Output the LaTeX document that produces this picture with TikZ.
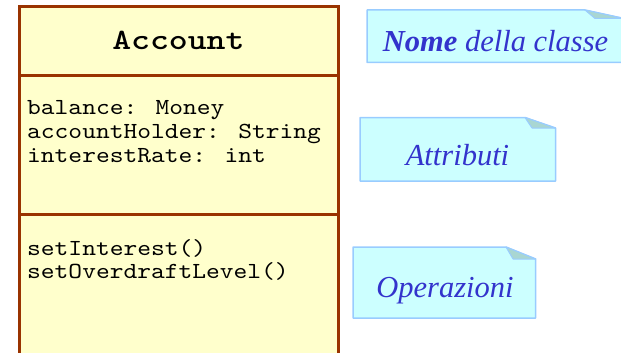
\documentclass[tikz,border=0pt]{standalone}
\usepackage{fontspec}
\setmainfont{Liberation Serif}
\newfontfamily\codefont{lmmono10-regular}[Extension=.otf, FakeStretch=1.14]
\newfontfamily\namefont{lmmonolt10-bold}[Extension=.otf, FakeStretch=1.22]
\definecolor{classfill}{HTML}{FFFFCC}
\definecolor{classline}{HTML}{993300}
\definecolor{notefill}{HTML}{CCFFFF}
\definecolor{noteline}{HTML}{99CCFF}
\definecolor{flapfill}{HTML}{A9D6D2}
\definecolor{notetext}{HTML}{3333CC}
\tikzset{
  compartment/.style={draw=classline, fill=classfill, line width=3pt},
  codeline/.style={anchor=base west, inner sep=0pt, font=\codefont\fontsize{23}{23}\selectfont},
  classname/.style={inner sep=0pt, font=\namefont\fontsize{29.5}{29.5}\selectfont},
  notebody/.style={draw=noteline, fill=notefill, line width=1.5pt, line join=round},
  noteflap/.style={draw=noteline, fill=flapfill, line width=1pt, line join=round},
  notelabel/.style={anchor=base, inner sep=0pt, text=notetext, font=\itshape\fontsize{30.5}{30.5}\selectfont}
}
\begin{document}
\begin{tikzpicture}[x=1pt, y=-1pt]
\useasboundingbox (0,0) rectangle (621,353);
\clip (0,0) rectangle (621,353);

% class box: three stacked compartments
\draw[compartment] (19.3,6.5) rectangle (338.5,76);
\draw[compartment] (19.3,76) rectangle (338.5,214.5);
\draw[compartment] (19.3,214.5) rectangle (338.5,370);
\node[classname, anchor=base] (cname) at (178.4,50) {Account};

\node[codeline] (a1) at (27,114.5) {balance: Money};
\node[codeline] (a2) at (27,138.5) {accountHolder: String};
\node[codeline] (a3) at (27,162.5) {interestRate: int};

\node[codeline] (m1) at (27,255) {setInterest()};
\node[codeline] (m2) at (27,278.5) {setOverdraftLevel()};

% note: class name
\draw[notebody] (367,10) -- (585,10) -- (624,18.5) -- (624,62.5) -- (367,62.5) -- cycle;
\draw[noteflap] (585,10) -- (595,18.5) -- (624,18.5) -- cycle;
\node[notelabel] (n1) at (495.5,52) {\textbf{Nome} della classe};

% note: attributes
\draw[notebody] (360,117.5) -- (525,117.5) -- (555.5,128) -- (555.5,181) -- (360,181) -- cycle;
\draw[noteflap] (525,117.5) -- (532,128) -- (555.5,128) -- cycle;
\node[notelabel] (n2) at (457.5,165) {Attributi};

% note: operations
\draw[notebody] (353,247) -- (506,247) -- (535.7,259) -- (535.7,318) -- (353,318) -- cycle;
\draw[noteflap] (506,247) -- (513,259) -- (535.7,259) -- cycle;
\node[notelabel] (n3) at (445,297) {Operazioni};
\end{tikzpicture}
\end{document}
